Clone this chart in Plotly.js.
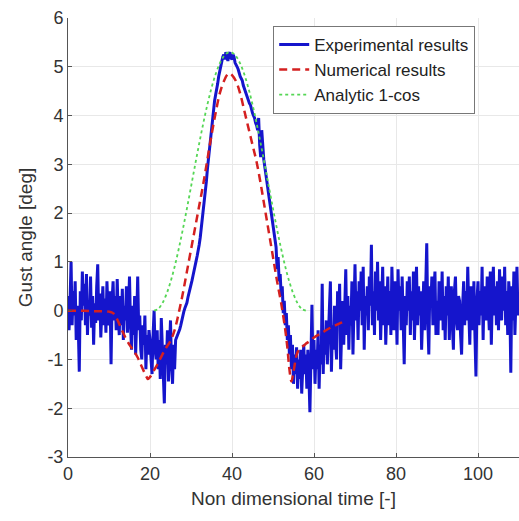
<!DOCTYPE html>
<html>
<head>
<meta charset="utf-8">
<script src="https://cdn.plot.ly/plotly-3.0.1.min.js"></script>
<style>html,body{margin:0;padding:0;background:#fff;}#chart{width:519px;height:521px;}</style>
</head>
<body>
<div id="chart"></div>
<script>
// Experimental results, sampled every 0.25 time units; each block gives its start time
const expStep = 0.25;
const exp00 = [0.3, -0.4, 0.2, 1.0, -0.3, 0.4, -0.1, 0.6, -0.6, 0.1, -0.3, -1.25, 0.4, -0.2, 0.8, 0.1, 0.55, -0.3, 0.75, -0.5,
  0.2, -0.1, 0.7, -0.35, 0.3, -0.7, 0.15, -0.25, 0.5, 0.95, -0.2, 0.35, -0.55, 0.1, 0.5, -0.3, 0.25, -0.45, 0.6, 0.0];
const exp10 = [-0.3, 0.4, -1.1, 0.2, 0.6, -0.2, 0.3, -0.4, 0.65, -0.1, -0.5, 0.3, -0.3, 0.45, -0.6, 0.1, -0.2, 0.5, -0.45, 0.0,
  0.7, -0.3, -0.8, 0.1, -0.5, 0.3, -0.9, -0.2, 0.7, -0.4, -0.1, -0.8, -1.0, -0.3, -0.7, -0.1, -1.2, -0.5, -0.9, -0.4];
const exp20 = [-0.6, -1.0, -1.3, -0.5, 0.0, -0.8, -1.0, -0.4, -1.2, -0.6, -1.4, -0.15, -0.9, -1.3, -1.9, -0.7, -1.1, -0.4,
  -1.45, -0.8, -0.2, -1.1, -1.5, -0.7, -1.2, -0.6, -0.55, -0.5];
const exp27 = [-0.45, -0.38, -0.3, -0.18, -0.1, -0.02, 0.05, 0.1, 0.16, 0.27, 0.35, 0.42, 0.5, 0.62, 0.72, 0.8,
  0.88, 1.02, 1.12, 1.22, 1.35, 1.5, 1.68, 1.82, 2.0, 2.2, 2.45, 2.65, 2.9, 3.1, 3.3, 3.58, 3.78, 3.92, 4.1, 4.3,
  4.42, 4.52, 4.65, 4.8, 4.92, 5.0, 5.1, 5.2, 5.25, 5.15, 5.3, 5.2, 5.12, 5.25, 5.3, 5.18, 5.15, 5.25, 5.2, 5.08,
  5.02, 5.0, 4.95, 4.86, 4.8, 4.76, 4.72, 4.62, 4.55, 4.5, 4.45, 4.36, 4.3, 4.25, 4.22, 4.12, 4.05, 4.0, 3.95, 3.85,
  3.8, 3.7, 3.95, 3.4, 3.15, 3.7, 3.3, 3.1, 2.95, 2.8, 2.62, 2.45, 2.3, 2.15, 1.95, 1.8, 1.65, 1.52, 1.4, 1.3,
  0.85, 1.1, 0.6, 0.75, 0.3, 0.5, -0.05, 0.2, -0.3, -0.05, -0.6, -0.3];
const exp54 = [-0.9, -0.5, -1.2, -0.7, -1.5, -0.9, -1.3, -0.75, -1.6, -1.0, -1.4, -0.8, -1.7, -1.1, -0.7, -1.3,
  -0.9, -1.6, -0.8, -1.3, -2.08, -1.0, 0.12, -1.2, -0.6, -1.5, -0.8, -1.2, -0.4, -1.6, -0.7, -1.1];
const exp62 = [0.55, -1.3, -0.4, -0.9, -0.2, -1.1, -0.5, 0.3, 0.6, -1.25, -0.3, -0.8, 0.1, -0.6, -1.0, 0.4,
  -0.2, 0.55, -1.2, -0.4, 0.2, -0.7, -0.1, 0.85, -0.5, 0.3, -0.8, 0.1, -0.3, 0.6, -0.9, 0.2];
const exp70 = [0.95, -0.2, 0.4, -0.6, 0.6, 0.0, 0.8, -0.3, 0.9, -0.8, 0.3, -0.1, 0.5, -0.4, 0.7, 0.1, 1.35, -0.3, 0.4, -0.5,
  0.8, 0.0, 1.0, -0.2, 0.6, -0.6, 0.3, 0.9, -0.3, 0.5, -0.7, 0.2, 0.7, -0.3, 0.4, -0.5, 0.9, 0.1, -0.4, 0.6];
const exp80 = [0.3, -0.7, 0.85, 0.0, 0.5, -0.4, 0.7, -0.2, -1.1, 0.3, -0.3, 0.6, 0.0, 0.7, -0.5, 0.4, -0.2, 0.8, -0.6, 0.2,
  0.9, -0.3, 0.5, -0.1, 0.4, -0.8, 0.2, 0.6, -0.4, 0.3, 1.38, -0.2, -0.9, 0.5, 0.1, 0.7, -0.3, 0.4, 0.8, -0.5];
const exp90 = [0.2, -0.5, 0.6, 0.0, -0.2, 0.8, -0.4, 0.3, -0.6, 0.5, -0.1, 0.7, -0.6, 0.2, 0.5, -0.3, -0.8, 0.4, 0.7, -0.2,
  -0.4, 0.3, 0.2, -0.5, -0.9, 0.1, 0.6, -0.3, 0.4, -0.2, 0.9, 0.0, -0.7, 0.5, 0.3, -0.4, 0.6, -0.5, -1.35, 0.2];
const exp100 = [0.6, -0.3, 0.4, -0.1, 0.9, -0.6, 0.5, 0.0, -0.2, 0.7, 0.2, -0.4, 0.8, -0.7, 0.3, 0.9, -0.1, 0.5, -0.3, 0.6,
  -0.4, 0.85, 0.1, -0.2, 0.7, 0.0, 0.9, -0.3, 0.4, -0.5, 0.6, 0.2, -1.27, 0.5, -0.2, 0.8, -0.5, 0.3, 0.9, -0.1, 0.3];
const expBlocks = [[0, exp00], [10, exp10], [20, exp20], [27, exp27], [54, exp54], [62, exp62],
  [70, exp70], [80, exp80], [90, exp90], [100, exp100]];
const expTime = [], expValues = [];
expBlocks.forEach(([t0, vals]) => vals.forEach((v, i) => { expTime.push(t0 + i * expStep); expValues.push(v); }));

// Numerical results
const numTime = [0, 2, 4, 6, 8, 10, 11, 12, 13, 14, 15, 16, 17, 18, 19, 19.5, 20, 21, 22, 23, 24, 25, 26, 27, 28, 29, 30,
  31, 32, 33, 34, 35, 36, 37, 38, 39, 39.5, 40, 41, 42, 43, 44, 45, 46, 47, 48, 49, 50, 51, 52, 53, 53.5, 54, 54.5, 55,
  56, 57, 58, 59, 60, 62, 64, 66, 68];
const numValues = [0, 0, 0, -0.01, -0.01, -0.02, -0.05, -0.18, -0.37, -0.55, -0.7, -0.82, -0.96, -1.15, -1.33, -1.4, -1.36,
  -1.22, -1.07, -0.9, -0.75, -0.62, -0.4, -0.05, 0.35, 0.8, 1.25, 1.7, 2.15, 2.6, 3.1, 3.6, 4.05, 4.45, 4.7, 4.85, 4.86,
  4.83, 4.7, 4.45, 4.1, 3.75, 3.4, 3.05, 2.6, 2.1, 1.6, 1.1, 0.6, 0.15, -0.4, -0.75, -1.2, -1.45, -1.25,
  -0.85, -0.75, -0.68, -0.62, -0.55, -0.45, -0.35, -0.27, -0.2];

// Analytic 1-cos gust
const anaTime = [21, 22, 23, 24, 25, 26, 27, 28, 29, 30, 31, 32, 33, 34, 35, 36, 37, 38, 39,
  40, 41, 42, 43, 44, 45, 46, 47, 48, 49, 50, 51, 52, 53, 54, 55, 56, 57, 58];
const anaValues = [0, 0.038, 0.151, 0.337, 0.588, 0.899, 1.263, 1.663, 2.092, 2.538, 2.987, 3.426, 3.843, 4.226,
  4.564, 4.847, 5.065, 5.215, 5.29, 5.29, 5.215, 5.065, 4.847, 4.564, 4.226, 3.843, 3.426, 2.987, 2.538, 2.092,
  1.663, 1.263, 0.899, 0.588, 0.337, 0.151, 0.038, 0];

const seriesNames = ['Experimental results', 'Numerical results', 'Analytic 1-cos'];
const xTicks = [0, 20, 40, 60, 80, 100];
const yTicks = [-3, -2, -1, 0, 1, 2, 3, 4, 5, 6];

const FONT = 'Liberation Sans, Arial, Helvetica, sans-serif';

const traces = [
  {x: expTime, y: expValues, name: seriesNames[0], type: 'scatter', mode: 'lines',
   line: {color: '#1515cc', width: 3}},
  {x: numTime, y: numValues, name: seriesNames[1], type: 'scatter', mode: 'lines',
   line: {color: '#d42020', width: 2.5, dash: '8px,5px', shape: 'spline'}},
  {x: anaTime, y: anaValues, name: seriesNames[2], type: 'scatter', mode: 'lines',
   line: {color: '#55d655', width: 1.8, dash: 'dot', shape: 'spline'}}
];

const layout = {
  width: 519, height: 521,
  margin: {l: 68, r: 0, t: 18, b: 64},
  paper_bgcolor: '#fff', plot_bgcolor: '#fff',
  font: {family: FONT, color: '#333', size: 18},
  showlegend: true,
  legend: {x: 0.455, y: 0.982, xanchor: 'left', yanchor: 'top', bgcolor: '#fff',
    bordercolor: '#777', borderwidth: 1, font: {family: FONT, size: 17, color: '#222'},
    tracegroupgap: 0, itemwidth: 30, entrywidth: 195, entrywidthmode: 'pixels'},
  xaxis: {range: [0, 110], tickvals: xTicks, ticktext: xTicks.map(String),
    showgrid: true, gridcolor: '#e8e8e8', gridwidth: 1, zeroline: false,
    showline: true, linecolor: '#555', linewidth: 1, ticks: 'inside', ticklen: 4, tickcolor: '#555',
    tickfont: {size: 18, color: '#333'},
    title: {text: 'Non dimensional time [-]', font: {size: 19, color: '#333'}, standoff: 9}},
  yaxis: {range: [-3, 6], tickvals: yTicks, ticktext: yTicks.map(String),
    showgrid: true, gridcolor: '#e8e8e8', gridwidth: 1, zeroline: false,
    showline: true, linecolor: '#555', linewidth: 1, ticks: 'inside', ticklen: 4, tickcolor: '#555',
    tickfont: {size: 18, color: '#333'},
    title: {text: 'Gust angle [deg]', font: {size: 19, color: '#333'}, standoff: 9}}
};

Plotly.newPlot('chart', traces, layout, {displayModeBar: false, staticPlot: true});
</script>
</body>
</html>
